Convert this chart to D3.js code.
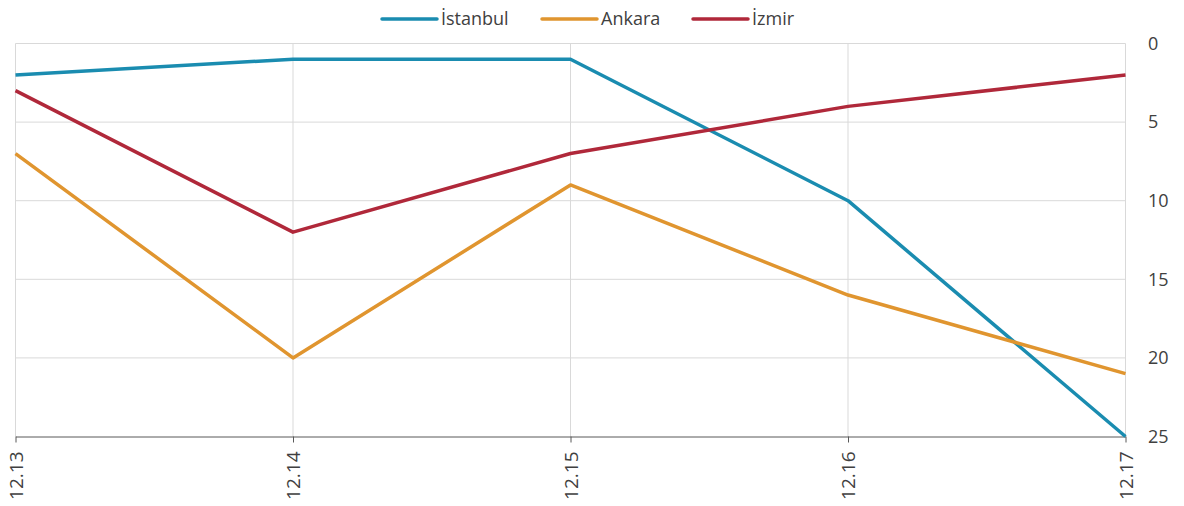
<!DOCTYPE html>
<html lang="en">
<head>
    <meta charset="UTF-8">
    <title>Chart</title>
    <script src="https://cdnjs.cloudflare.com/ajax/libs/d3/7.8.5/d3.min.js"></script>
    <style>
        body { margin: 0; background: #ffffff; }
        text { font-family: "Open Sans", "Noto Sans", sans-serif; fill: #404040; }
    </style>
</head>
<body>
    <script>
        // Categories and series
        var categories = ["12.13", "12.14", "12.15", "12.16", "12.17"];
        var seriesNames = ["İstanbul", "Ankara", "İzmir"];
        var istanbul = [2, 1, 1, 10, 25];
        var ankara = [7, 20, 9, 16, 21];
        var izmir = [3, 12, 7, 4, 2];
        var yTicks = [0, 5, 10, 15, 20, 25];
        var colors = ["#1a8cb0", "#e0952f", "#b0283a"];

        var series = [istanbul, ankara, izmir];

        var width = 1184, height = 506;
        var svg = d3.select("body")
            .append("svg")
            .attr("width", width)
            .attr("height", height);

        var x = d3.scalePoint().domain(categories).range([15.5, 1125.5]);
        var y = d3.scaleLinear().domain([0, 25]).range([43.5, 436.5]);

        // Gridlines
        svg.append("g").selectAll("line.h")
            .data(yTicks.slice(0, -1))
            .enter().append("line")
            .attr("x1", 15.5).attr("x2", 1125.5)
            .attr("y1", function(d){ return y(d); })
            .attr("y2", function(d){ return y(d); })
            .attr("stroke", "#d9d9d9").attr("stroke-width", 1);
        svg.append("g").selectAll("line.v")
            .data(categories)
            .enter().append("line")
            .attr("x1", function(d){ return x(d); })
            .attr("x2", function(d){ return x(d); })
            .attr("y1", 43.5).attr("y2", 436.5)
            .attr("stroke", "#d9d9d9").attr("stroke-width", 1);

        // Bottom axis
        var xAxis = svg.append("g")
            .attr("transform", "translate(0,436.5)")
            .call(d3.axisBottom(x).tickSizeInner(6).tickSizeOuter(0));
        xAxis.select(".domain").attr("stroke", "#595959");
        xAxis.selectAll(".tick line").attr("stroke", "#595959");
        xAxis.selectAll(".tick text")
            .attr("font-size", 19)
            .attr("fill", "#404040")
            .attr("transform", "rotate(-90)")
            .attr("text-anchor", "end")
            .attr("x", -15)
            .attr("y", 0)
            .attr("dy", "0.35em");

        // Right axis labels
        var yAxis = svg.append("g")
            .attr("transform", "translate(1126,0)")
            .call(d3.axisRight(y).tickValues(yTicks).tickSize(0).tickPadding(22));
        yAxis.select(".domain").remove();
        yAxis.selectAll(".tick text").attr("font-size", 18).attr("fill", "#404040");

        // Lines
        var line = d3.line()
            .x(function(d, i){ return x(categories[i]); })
            .y(function(d){ return y(d); });

        svg.append("g").selectAll("path.series")
            .data(series)
            .enter().append("path")
            .attr("d", line)
            .attr("fill", "none")
            .attr("stroke", function(d, i){ return colors[i]; })
            .attr("stroke-width", 3.5)
            .attr("stroke-linejoin", "round");

        // Legend
        var legendX = [382, 542, 693];
        var legend = svg.append("g").selectAll("g")
            .data(seriesNames)
            .enter().append("g")
            .attr("transform", function(d, i){ return "translate(" + legendX[i] + ",19)"; });
        legend.append("line")
            .attr("x1", 0).attr("x2", 55)
            .attr("stroke", function(d, i){ return colors[i]; })
            .attr("stroke-width", 3.5)
            .attr("stroke-linecap", "round");
        legend.append("text")
            .attr("x", 59)
            .attr("dy", "0.35em")
            .attr("font-size", 18)
            .text(function(d){ return d; });
    </script>
</body>
</html>
